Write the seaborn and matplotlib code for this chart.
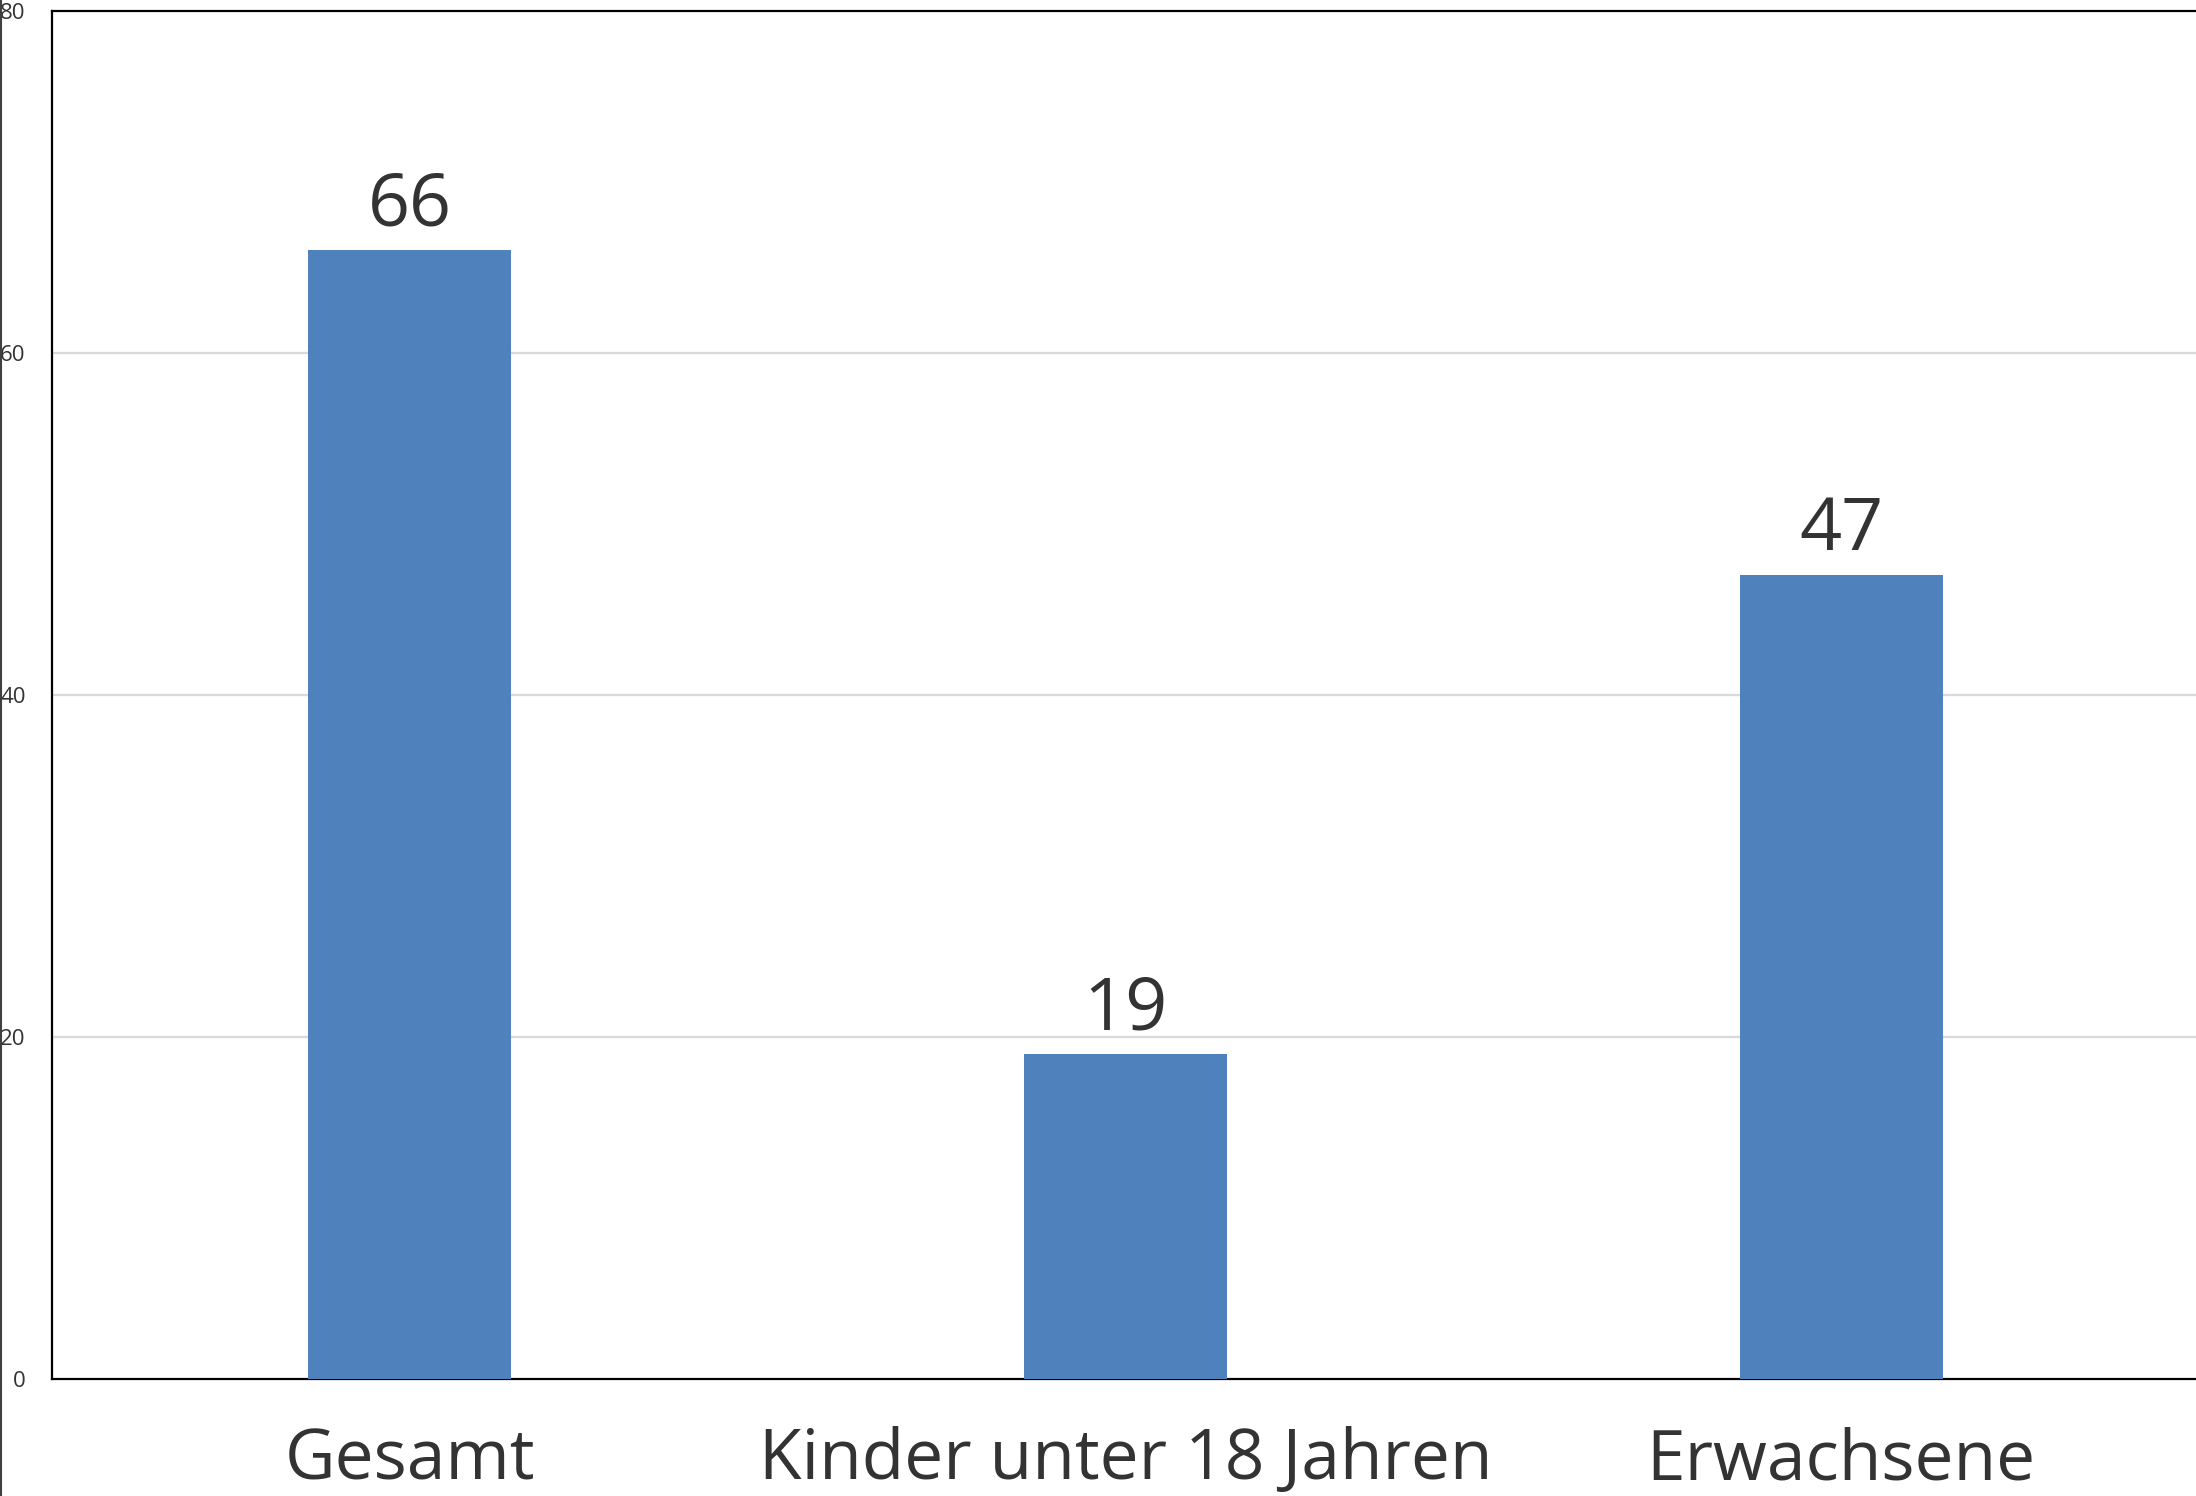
import matplotlib
matplotlib.use("Agg")
import matplotlib.pyplot as plt
import seaborn as sns
import pandas as pd
from matplotlib.lines import Line2D

# data
categories = ["Gesamt", "Kinder unter 18 Jahren", "Erwachsene"]
values = [66, 19, 47]
y_ticks = [0, 20, 40, 60, 80]

bar_color = "#4F81BD"
text_color = "#333333"

sns.set_theme(style="white")
plt.rcParams["font.family"] = ["Open Sans", "DejaVu Sans"]

df = pd.DataFrame({"Kategorie": categories, "Wert": values})

fig = plt.figure(figsize=(21.96, 14.96), dpi=100)
ax = fig.add_axes([52 / 2196, 117 / 1496, 2147 / 2196, 1368 / 1496])

sns.barplot(data=df, x="Kategorie", y="Wert", color=bar_color, saturation=1,
            width=0.284, linewidth=0, ax=ax, zorder=3)

ax.set_xlim(-0.5, 2.5)
ax.set_ylim(0, 80)
ax.set_yticks(y_ticks)
ax.set_yticklabels([str(t) for t in y_ticks])
ax.set_xlabel("")
ax.set_ylabel("")

# gridlines only at inner ticks
for t in y_ticks[1:-1]:
    ax.axhline(t, color="#d9d9d9", lw=1.6, zorder=1)

for s in ["top", "bottom", "left"]:
    ax.spines[s].set_visible(True)
    ax.spines[s].set_color("black")
    ax.spines[s].set_linewidth(1.6)
ax.spines["right"].set_visible(False)

ax.tick_params(axis="y", length=0, pad=19, labelsize=16, labelcolor=text_color)
ax.tick_params(axis="x", length=0, pad=34, labelsize=50, labelcolor=text_color)

# value labels
for i, v in enumerate(values):
    ax.annotate(str(v), (i, v), xytext=(0, 18), textcoords="offset points",
                ha="center", va="baseline", fontsize=53, color=text_color)

# thin line at the left edge of the picture
fig.add_artist(Line2D([1 / 2196, 1 / 2196], [0, 1], color="#404040", lw=1.5,
                      transform=fig.transFigure))

fig.savefig("out.png", dpi=100, facecolor="white")
